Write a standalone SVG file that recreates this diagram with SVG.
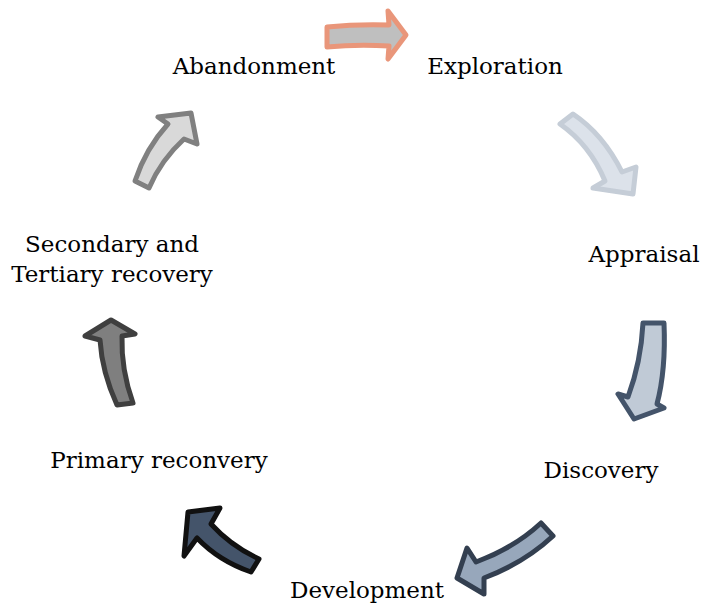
<svg xmlns="http://www.w3.org/2000/svg" width="702" height="610" viewBox="0 0 702 610">
<style>
.lbl{font-family:"DejaVu Serif","Liberation Serif",serif;font-size:23px;fill:#000;text-anchor:middle}
.arr{stroke-width:5;stroke-linejoin:round}
</style>
<rect width="702" height="610" fill="#fff"/>
<g id="connectors">
<path class="arr" fill="#BFBFBF" stroke="#E9967A" d="M327,27 Q357,24 389,25 L388,11 L406,35 L388,59 L389,46 Q357,44 327,47 Z"/>
<path class="arr" fill="#DCE2EA" stroke="#C5CDD7" d="M560,124 L573,114 Q603,134 622,172 L636,167 L633,194 L593,188 L605,181 Q590,145 560,124 Z"/>
<path class="arr" fill="#C0CAD6" stroke="#44546A" d="M643,323 L664,323 Q666,370 657,404 L664,408 L634,419 L618,394 L628,397 Q641,362 643,323 Z"/>
<path class="arr" fill="#97A7BB" stroke="#333F50" d="M541,523 L553,536 Q524,563 484,578 L484,594 L457,578 L467,548 L476,562 Q514,548 541,523 Z"/>
<path class="arr" fill="#44546A" stroke="#111111" d="M188,512 L220,508 L211,524 Q231,546 259,559 L251,572 Q219,561 197,538 L184,556 Z"/>
<path class="arr" fill="#7F7F7F" stroke="#3F3F3F" d="M111,320 L135,334 L122,336 Q121,370 133,403 L117,405 Q102,372 100,340 L85,336 Z"/>
<path class="arr" fill="#D9D9D9" stroke="#808080" d="M191,113 L197,144 L184,139 Q161,160 149,188 L135,181 Q146,148 168,124 L158,117 Z"/>
</g>
<g id="abandonment"><text class="lbl" x="254" y="74">Abandonment</text></g>
<g id="exploration"><text class="lbl" x="495" y="74">Exploration</text></g>
<g id="appraisal"><text class="lbl" x="644" y="262">Appraisal</text></g>
<g id="discovery"><text class="lbl" x="601" y="478">Discovery</text></g>
<g id="development"><text class="lbl" x="367" y="598">Development</text></g>
<g id="primary"><text class="lbl" x="159" y="468">Primary reconvery</text></g>
<g id="secondary"><text class="lbl" x="112" y="252">Secondary and</text><text class="lbl" x="112" y="282">Tertiary recovery</text></g>
</svg>
